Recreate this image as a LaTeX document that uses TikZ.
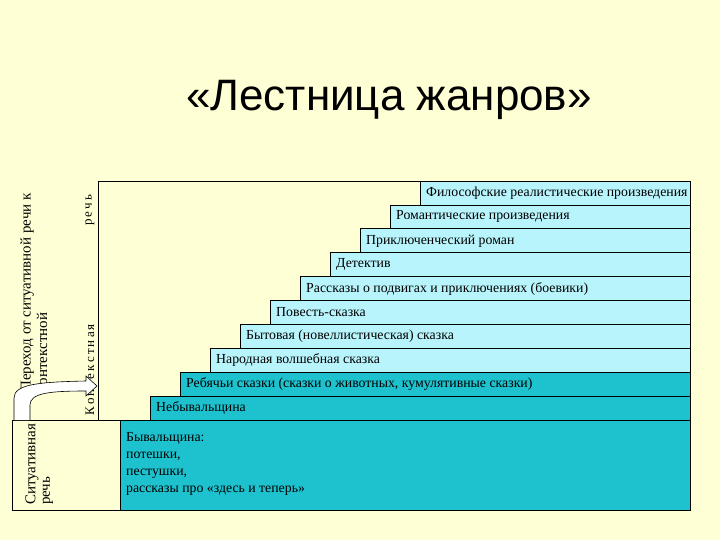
\documentclass[tikz,border=0pt]{standalone}
\usepackage{fontspec}
\setmainfont{Liberation Serif}
\newfontfamily\titlefont{Liberation Sans}
\definecolor{bg}{HTML}{FFFFD6}
\definecolor{lcyan}{HTML}{B8F4FC}
\definecolor{dteal}{HTML}{1EC2CE}
\begin{document}
\begin{tikzpicture}[x=1pt,y=-1pt,
  stepbox/.style={draw=black,line width=0.6pt},
  lbl/.style={anchor=west,font=\fontsize{13.8}{15}\selectfont,inner sep=0pt},
  vlbl/.style={rotate=90,anchor=west,font=\fontsize{15}{16}\selectfont,inner sep=0pt}]
\fill[bg] (0,0) rectangle (720,540);
\node[font=\titlefont\fontsize{44}{48}\selectfont] (title) at (389,100) {«Лестница жанров»};
\draw[stepbox,fill=bg] (98,181) rectangle (690,420);
\foreach \i/\t in {0/Философские реалистические произведения,1/Романтические произведения,2/Приключенческий роман,3/Детектив,4/Рассказы о подвигах и приключениях (боевики),5/Повесть-сказка,6/Бытовая (новеллистическая) сказка,7/Народная волшебная сказка,8/{Ребячьи сказки (сказки о животных, кумулятивные сказки)},9/Небывальщина}{
  \pgfmathsetmacro{\xl}{420-30*\i}
  \pgfmathsetmacro{\yt}{181+23.9*\i}
  \pgfmathsetmacro{\yb}{\yt+23.9}
  \ifnum\i>7 \def\fc{dteal}\else\def\fc{lcyan}\fi
  \draw[stepbox,fill=\fc] (\xl,\yt) rectangle (690,\yb);
  \node[lbl] (r\i) at (\xl+6,\yt+12) {\t};
}
\draw[stepbox,fill=dteal] (120,420) rectangle (690,510);
\node[anchor=north west,align=left,font=\fontsize{13.8}{17}\selectfont,inner sep=0pt] (byv) at (126,432) {Бывальщина:\\потешки,\\пестушки,\\рассказы про «здесь и теперь»};
\draw[stepbox,fill=bg] (12,420) rectangle (120,510);
\node[vlbl] (sit1) at (32,505) {Ситуативная};
\node[vlbl] (sit2) at (48,505) {речь};
\node[vlbl] (per1) at (27,392) {Переход от ситуативной речи к};
\node[vlbl] (per2) at (42,392) {контекстной};
\node[vlbl,font=\fontsize{13}{14}\selectfont] (kon) at (90,416) {К\,о\,н\,т\,е\,к\,с\,т\,н\,а\,я};
\node[vlbl,font=\fontsize{13}{14}\selectfont] (rech) at (90,226) {р\,е\,ч\,ь};
\draw[line width=0.6pt,fill=white] (14,420) -- (14,398) .. controls (14,384) and (40,382) .. (86,381)
  -- (86,376) -- (97,386) -- (86,396) -- (86,391) .. controls (50,391) and (30,393) .. (30,405) -- (30,420);
\end{tikzpicture}
\end{document}
